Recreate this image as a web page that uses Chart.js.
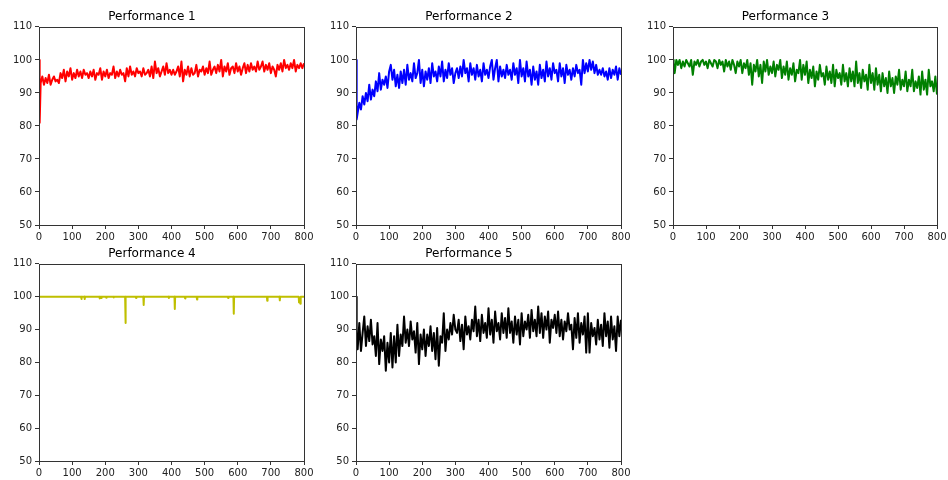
<!DOCTYPE html>
<html>
<head>
<meta charset="utf-8">
<script src="https://cdn.jsdelivr.net/npm/chart.js@4"></script>
<style>
  html, body { margin: 0; padding: 0; background: #fff; overflow: hidden; }
  body { width: 948px; height: 480px; position: relative; }
  .panel { position: absolute; }
</style>
</head>
<body>
<div class="panel" style="left:0px;top:0px"><canvas id="perf1" width="315" height="245"></canvas></div>
<div class="panel" style="left:317px;top:0px"><canvas id="perf2" width="315" height="245"></canvas></div>
<div class="panel" style="left:634px;top:0px"><canvas id="perf3" width="314" height="245"></canvas></div>
<div class="panel" style="left:0px;top:237px"><canvas id="perf4" width="315" height="244"></canvas></div>
<div class="panel" style="left:317px;top:237px"><canvas id="perf5" width="315" height="244"></canvas></div>
<script>
// Shared x positions (steps) for the noisy runs
const steps = [0, 2,
  5, 10, 15, 20, 25, 30, 35, 40, 45, 50,
  55, 60, 65, 70, 75, 80, 85, 90, 95, 100,
  105, 110, 115, 120, 125, 130, 135, 140, 145, 150,
  155, 160, 165, 170, 175, 180, 185, 190, 195, 200,
  205, 210, 215, 220, 225, 230, 235, 240, 245, 250,
  255, 260, 265, 270, 275, 280, 285, 290, 295, 300,
  305, 310, 315, 320, 325, 330, 335, 340, 345, 350,
  355, 360, 365, 370, 375, 380, 385, 390, 395, 400,
  405, 410, 415, 420, 425, 430, 435, 440, 445, 450,
  455, 460, 465, 470, 475, 480, 485, 490, 495, 500,
  505, 510, 515, 520, 525, 530, 535, 540, 545, 550,
  555, 560, 565, 570, 575, 580, 585, 590, 595, 600,
  605, 610, 615, 620, 625, 630, 635, 640, 645, 650,
  655, 660, 665, 670, 675, 680, 685, 690, 695, 700,
  705, 710, 715, 720, 725, 730, 735, 740, 745, 750,
  755, 760, 765, 770, 775, 780, 785, 790, 795, 800];

const perf1 = [100, 81,
  93, 95, 92.5, 94.5, 93, 95.5, 92.5, 94, 95, 93.5,
  94, 93, 96, 94.5, 97, 93.5, 96.5, 95, 97.5, 94,
  96, 94.5, 97, 95, 96.5, 94.5, 97, 95.5, 96, 94.5,
  96.5, 95, 97, 94, 96, 95.5, 97.5, 94, 96.5, 95,
  97, 94.5, 96, 95.5, 98, 94.5, 96.5, 95, 97, 95.5,
  96, 93.5, 97.5, 95, 98, 95.5, 96.5, 95, 97.5, 96,
  96.5, 95, 97.5, 95.5, 96, 97, 95, 98, 94.5, 99.5,
  96, 97.5, 95, 96.5, 98, 95.5, 99, 96, 97, 95.5,
  97, 95.5, 96.5, 98, 95, 99.5, 93.5, 97, 95.5, 98,
  95, 97.5, 95.5, 96, 98.5, 95, 97, 96.5, 98, 95.5,
  97.5, 96, 99.5, 95.5, 97, 98, 96, 98.5, 96.5, 100,
  95, 98, 96.5, 99, 95.5, 97.5, 98, 96, 99, 96.5,
  98, 95.5, 97.5, 99, 96, 98.5, 96.5, 99, 97, 98,
  96.5, 99.5, 97, 98, 99.5, 96.5, 98.5, 97, 99, 96,
  98, 97, 95, 98.5, 97, 99, 96.5, 100, 97.5, 98.5,
  97, 99, 97.5, 100, 96.5, 98.5, 97.5, 99, 97.5, 99];

const perf2 = [100, 82,
  84, 87, 85, 89, 86.5, 90, 87.5, 92.5, 88, 91,
  89, 93.5, 90.5, 96, 91, 94, 92.5, 95, 91.5, 96.5,
  98.5, 94, 97, 92, 95.5, 91.5, 96.5, 93, 97, 92.5,
  98.5, 94, 96, 93.5, 99, 94.5, 96, 100, 93, 97,
  92, 96.5, 94, 97.5, 93, 99, 95, 96.5, 93.5, 98,
  95, 99.5, 93.5, 97, 94.5, 99, 95.5, 97.5, 93, 96,
  97.5, 94.5, 98, 95, 100, 96, 97.5, 93.5, 99, 95.5,
  97.5, 94, 98.5, 95, 97, 93.5, 99, 95.5, 97, 94.5,
  98, 100, 94, 97.5, 100, 93.5, 98, 95, 97, 94.5,
  98.5, 95.5, 97, 94, 99, 95.5, 97.5, 93, 100, 95,
  97.5, 93.5, 99.5, 95, 97, 92.5, 98, 94, 96.5, 92.5,
  98.5, 94.5, 97, 93.5, 99.5, 95, 97.5, 94, 99, 96,
  97, 93.5, 99, 95, 97.5, 93, 98.5, 95.5, 97, 94,
  97.5, 95, 98.5, 96, 97, 92.5, 100, 96, 99, 96.5,
  100, 97, 99.5, 96, 98.5, 95.5, 97, 95.5, 97.5, 95,
  96.5, 94, 97.5, 94.5, 97, 95.5, 98, 94, 97.5, 95.5];

const perf3 = [100, 99,
  96, 100, 98.5, 100, 97.5, 99.5, 98, 100, 99, 98,
  100, 95.5, 99.5, 98.5, 100, 98, 99.5, 100, 98.5, 99.5,
  97.5, 100, 99, 98, 100, 99.5, 97.5, 100, 98.5, 99.5,
  96.5, 100, 98, 99.5, 97, 100, 98.5, 96, 99.5, 98,
  100, 96, 99, 97.5, 100, 95.5, 99, 92.5, 98.5, 96.5,
  100, 95, 98.5, 93, 99.5, 96.5, 100, 95.5, 98, 96,
  99.5, 95, 98.5, 97, 100, 94.5, 98, 95.5, 99.5, 94,
  97.5, 95.5, 99, 93.5, 97, 96, 100, 94, 98.5, 95.5,
  99.5, 93, 97, 94.5, 98, 92, 96.5, 94, 98.5, 95,
  96, 92.5, 98, 94, 96.5, 93, 98.5, 92, 97, 94.5,
  96, 92.5, 98.5, 93.5, 96, 92, 97.5, 93.5, 96.5, 92,
  99.5, 93, 96, 91.5, 97, 93.5, 95.5, 91, 98.5, 93,
  96, 91, 97.5, 92.5, 95.5, 90.5, 96, 92, 94.5, 90,
  96.5, 92, 94.5, 90, 95, 92.5, 97, 91, 94, 92,
  96.5, 90.5, 94, 92, 97, 90.5, 93.5, 91.5, 95, 89.5,
  96.5, 91, 94, 89.5, 97, 92, 93.5, 90.5, 95, 89.5];

// Run 4 sits at 100 with a few narrow dips
const steps4 = [0,
  127, 128, 129, 137, 138, 139, 182, 183, 184, 187, 188, 189,
  202, 203, 204, 224, 225, 226, 260, 261, 262, 292, 293, 294,
  315, 316, 317, 391, 392, 393, 409, 410, 411, 440, 441, 442,
  476, 477, 478, 570, 571, 572, 587, 588, 589, 688, 689, 690,
  726, 727, 728, 784, 785, 787, 789, 790, 800];

const perf4 = [100,
  100, 99.3, 100, 100, 99.3, 100, 100, 99.5, 100, 100, 99.6, 100,
  100, 99.7, 100, 100, 99.8, 100, 100, 92, 100, 100, 99.6, 100,
  100, 97.5, 100, 100, 99.6, 100, 100, 96.3, 100, 100, 99.5, 100,
  100, 99.2, 100, 100, 99.6, 100, 100, 94.8, 100, 100, 98.8, 100,
  100, 98.9, 100, 100, 98.3, 98.5, 97.9, 100, 100];

const perf5 = [100, 88,
  84, 92, 83.5, 89, 94, 85, 91, 86.5, 93, 85.5,
  88, 82, 92, 79.5, 87, 83.5, 88, 77.5, 86, 80,
  89, 78.5, 88, 80, 91.5, 82, 88.5, 85, 94, 86,
  90, 85, 92.5, 87, 89.5, 83, 92, 79.5, 88.5, 84,
  90, 82, 88.5, 85, 91, 83.5, 89, 81, 90.5, 79,
  88, 86, 95, 83.5, 90, 87, 92, 88.5, 94.5, 90,
  89, 93, 86.5, 91.5, 84, 94, 88.5, 91, 87, 93,
  89.5, 97, 88, 93, 86.5, 94.5, 89, 92, 87.5, 96.5,
  88.5, 93, 86, 95.5, 89.5, 92, 87, 95, 89, 93.5,
  87.5, 96.5, 89, 92.5, 86, 94, 88.5, 93, 85.5, 95,
  88, 92.5, 90, 94.5, 87.5, 96, 89.5, 93, 88, 97,
  89, 95, 87.5, 94, 90, 95.5, 86, 93, 90.5, 94.5,
  89, 95.5, 88, 93, 87, 92.5, 89.5, 95, 90, 91.5,
  84, 93.5, 87.5, 95, 86, 92, 88.5, 94, 83, 95,
  83, 92, 88, 90.5, 85.5, 93, 87, 91.5, 85, 95,
  88, 92.5, 84.5, 94, 87, 91, 83.5, 94, 88, 93];

const titles = ['Performance 1', 'Performance 2', 'Performance 3', 'Performance 4', 'Performance 5'];
const colors = ['#ff0000', '#0000ff', '#008000', '#bfbf00', '#000000'];
const seriesList = [perf1, perf2, perf3, perf4, perf5];
const stepsList = [steps, steps, steps, steps4, steps];

// Draws the full box around the plot area, like matplotlib spines
const boxPlugin = {
    id: 'box',
    afterDraw(chart) {
        const a = chart.chartArea;
        const c = chart.ctx;
        c.save();
        c.strokeStyle = '#333';
        c.lineWidth = 1;
        const l = Math.round(a.left) + 0.5;
        const t = Math.round(a.top) + 0.5;
        c.strokeRect(l, t, Math.round(a.right) + 0.5 - l, Math.round(a.bottom) + 0.5 - t);
        c.restore();
    }
};

const tickFont = { family: 'DejaVu Sans', size: 10 };

function makeChart(id, idx) {
    const ctx = document.getElementById(id).getContext('2d');
    const xs = stepsList[idx];
    const points = xs.map((x, i) => ({ x: x, y: seriesList[idx][i] }));
    return new Chart(ctx, {
        type: 'line',
        data: {
            datasets: [{
                data: points,
                borderColor: colors[idx],
                borderWidth: 2,
                borderJoinStyle: 'round',
                pointRadius: 0,
                tension: 0,
                fill: false
            }]
        },
        options: {
            responsive: false,
            animation: false,
            devicePixelRatio: 1,
            layout: { padding: { left: 0, right: 11, top: 0, bottom: 0 } },
            plugins: {
                legend: { display: false },
                tooltip: { enabled: false },
                title: {
                    display: true,
                    text: titles[idx],
                    color: '#000',
                    font: { family: 'DejaVu Sans', size: 12, weight: 'normal' },
                    padding: { top: 9.5, bottom: 3 }
                }
            },
            scales: {
                x: {
                    type: 'linear',
                    min: 0,
                    max: 800,
                    ticks: { stepSize: 100, color: '#222', font: tickFont, padding: 2, maxRotation: 0 },
                    grid: { drawOnChartArea: false, tickLength: 4, color: '#333' },
                    border: { display: false },
                    afterFit(scale) {
                        scale.height = 20;
                        scale.paddingLeft = 0;
                        scale.paddingRight = 0;
                    }
                },
                y: {
                    min: 50,
                    max: 110,
                    ticks: { stepSize: 10, color: '#222', font: tickFont, padding: 3 },
                    grid: { drawOnChartArea: false, tickLength: 4, color: '#333' },
                    border: { display: false },
                    afterFit(scale) {
                        scale.width = 39;
                        scale.paddingTop = 0;
                        scale.paddingBottom = 0;
                    }
                }
            }
        },
        plugins: [boxPlugin]
    });
}

makeChart('perf1', 0);
makeChart('perf2', 1);
makeChart('perf3', 2);
makeChart('perf4', 3);
makeChart('perf5', 4);
</script>
</body>
</html>
